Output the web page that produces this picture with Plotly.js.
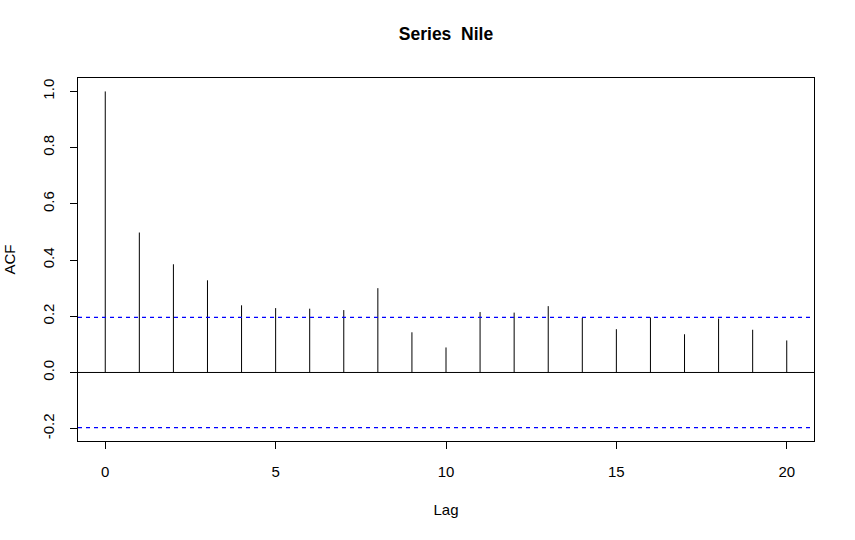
<!DOCTYPE html>
<html><head><meta charset="utf-8">
<script src="https://cdn.plot.ly/plotly-3.0.1.min.js"></script>
<style>body{margin:0;padding:0;background:#fff}</style>
</head><body>
<div id="chart" style="width:855px;height:540px"></div>
<script>
const lags = [0,1,2,3,4,5,6,7,8,9,10,11,12,13,14,15,16,17,18,19,20];
const acfValues = [1.000,0.498,0.385,0.328,0.239,0.229,0.227,0.222,0.300,0.143,0.089,0.215,0.213,0.236,0.194,0.154,0.196,0.136,0.192,0.152,0.114];
const nObs = 100;
const ciLimit = 1.96/Math.sqrt(nObs);
const xTicks = [0,5,10,15,20];
const yTicks = [-0.2,0.0,0.2,0.4,0.6,0.8,1.0];
const yTickLabels = ["-0.2","0.0","0.2","0.4","0.6","0.8","1.0"];

const sx = [], sy = [];
lags.forEach((l,i)=>{ sx.push(l,l,null); sy.push(0,acfValues[i],null); });

const xmin = Math.min(...lags), xmax = Math.max(...lags);
const xpad = (xmax-xmin)*0.04;
const ymin = Math.min(...acfValues, -ciLimit), ymax = Math.max(...acfValues, ciLimit);
const ypad = (ymax-ymin)*0.04;

const font = "Liberation Sans, Arial, Helvetica, sans-serif";
const data = [{
  x: sx, y: sy, type: 'scatter', mode: 'lines',
  line: {color: '#000', width: 1}, hoverinfo: 'skip', showlegend: false
}];
const layout = {
  width: 855, height: 540,
  margin: {l: 78, r: 41, t: 78, b: 99},
  paper_bgcolor: '#fff', plot_bgcolor: '#fff',
  font: {family: font, size: 15, color: '#000'},
  title: {text: '<b>Series\u00a0\u00a0Nile</b>', font: {family: font, size: 17.5, color: '#000'}, x: 0.5, xref: 'paper', y: 1, yref: 'container', yanchor: 'top', pad: {t: 28}},
  xaxis: {
    range: [xmin-xpad, xmax+xpad], tickvals: xTicks, ticktext: xTicks.map(String),
    showgrid: false, zeroline: false, showline: true, mirror: true, linecolor: '#000', linewidth: 1,
    ticks: 'outside', ticklen: 7, tickcolor: '#000', tickfont: {size: 15}, ticklabelstandoff: 10,
    title: {text: 'Lag', font: {size: 15}, standoff: 25}
  },
  yaxis: {
    range: [ymin-ypad, ymax+ypad], tickvals: yTicks, ticktext: yTickLabels, tickangle: -90,
    showgrid: false, zeroline: false, showline: true, mirror: true, linecolor: '#000', linewidth: 1,
    ticks: 'outside', ticklen: 7, tickcolor: '#000', tickfont: {size: 15}, ticklabelstandoff: 10,
    title: {text: 'ACF', font: {size: 15}, standoff: 20}
  },
  shapes: [
    {type: 'line', xref: 'paper', x0: 0, x1: 1, yref: 'y', y0: 0, y1: 0, line: {color: '#000', width: 1}},
    {type: 'line', xref: 'paper', x0: 0, x1: 1, yref: 'y', y0: ciLimit, y1: ciLimit, line: {color: '#0000ff', width: 1.2, dash: '4px,4px'}},
    {type: 'line', xref: 'paper', x0: 0, x1: 1, yref: 'y', y0: -ciLimit, y1: -ciLimit, line: {color: '#0000ff', width: 1.2, dash: '4px,4px'}}
  ]
};
Plotly.newPlot('chart', data, layout, {displayModeBar: false, staticPlot: true});
</script>
</body></html>
